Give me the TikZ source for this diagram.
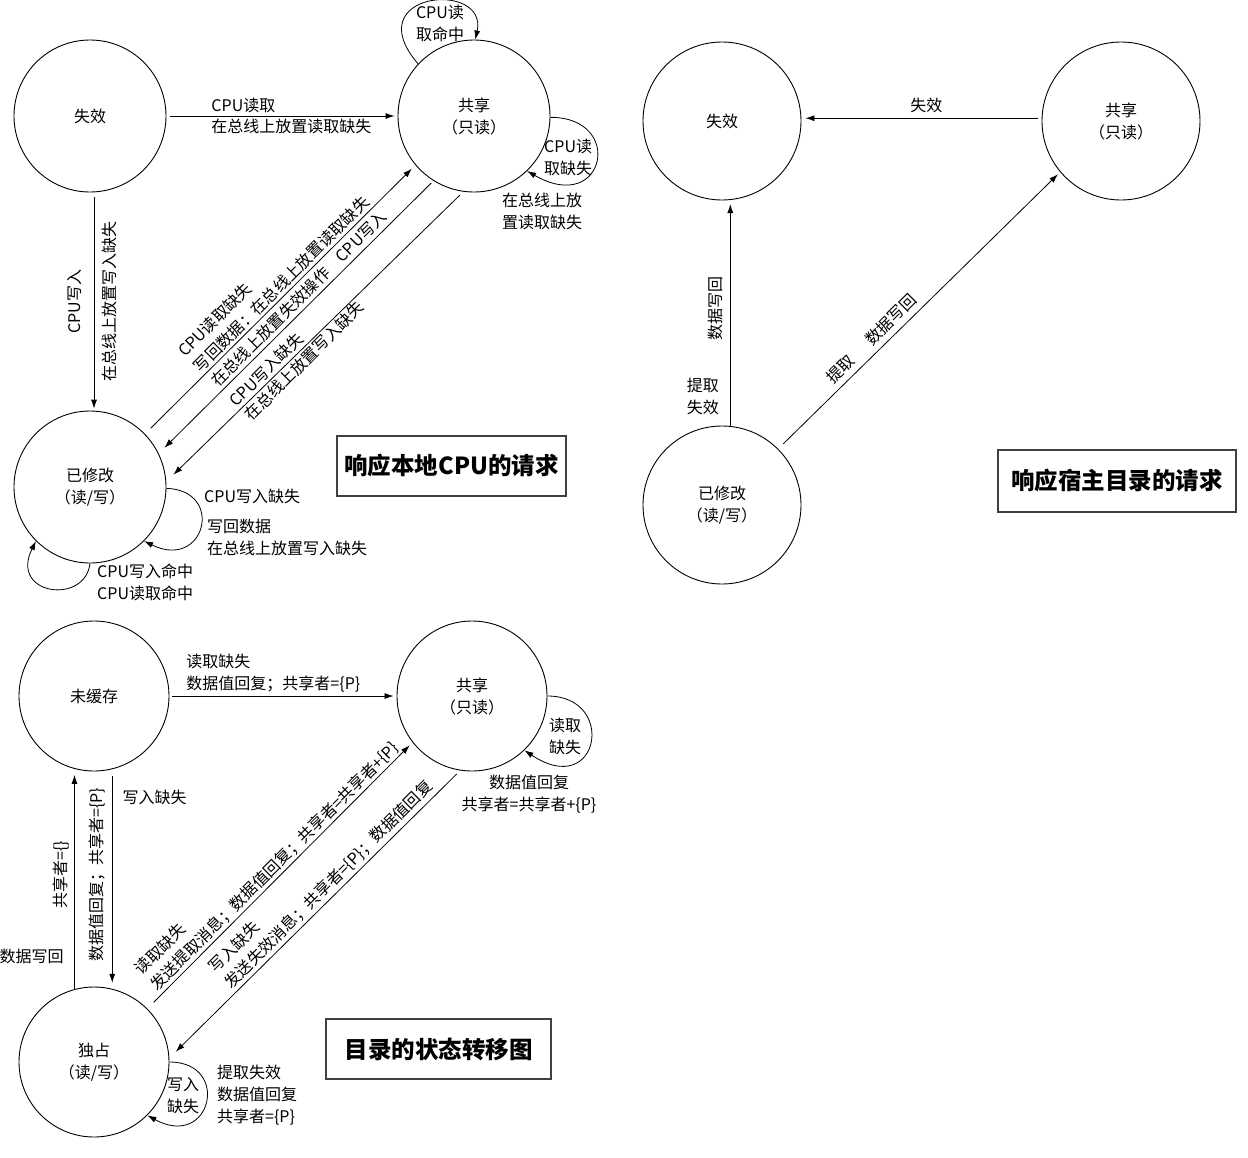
\documentclass[tikz,border=0pt]{standalone}
\usepackage{fontspec}
\setmainfont{Noto Sans CJK SC}
\usetikzlibrary{arrows.meta}
\tikzset{
	state/.style={circle,draw,line width=.9pt,inner sep=0pt,align=center},
	trans/.style={line width=.8pt,-{Latex[length=9pt,width=6pt]}},
	lab/.style={inner sep=3pt,align=left},
	title/.style={draw=black!75,line width=1.3pt,font=\bfseries\fontsize{23.5pt}{28pt}\selectfont}
}
\begin{document}
\begin{tikzpicture}[x=1pt,y=-1pt,font=\fontsize{16pt}{22pt}\selectfont]
		\useasboundingbox (0,0) rectangle (1248,1157);
		\node[state,minimum size=152pt] (inv1) at (90,116) {失效};
		\node[state,minimum size=152pt] (sh1) at (474,116) {共享\\（只读）};
		\node[state,minimum size=152pt] (mod1) at (90,487) {已修改\\（读/写）};
		\draw[trans,shorten <=4pt,shorten >=3pt] (inv1) -- (sh1)
			node[lab,pos=.18,anchor=south west] (t1) {CPU读取}
			node[lab,pos=.18,anchor=north west] (t2) {在总线上放置读取缺失};
		\draw[trans,shorten <=5pt,shorten >=2pt] (inv1.-87) -- (mod1.87)
			node[lab,midway,rotate=90,anchor=south,inner sep=12pt] (t3) {CPU写入}
			node[lab,midway,rotate=90,anchor=north,inner sep=8pt] (t4) {在总线上放置写入缺失};
		\draw[trans,shorten <=8pt,shorten >=5pt] (mod1.44) -- (sh1.220)
			node[lab,pos=.21,rotate=45,anchor=south west,inner sep=2pt] (t5) {CPU读取缺失\\写回数据：在总线上放置读取缺失};
		\draw[trans,shorten <=3pt,shorten >=8pt] (sh1.238) -- (mod1.26)
			node[lab,pos=.78,rotate=45,anchor=south west] (t6) {在总线上放置失效操作\hspace{1em}CPU写入};
		\draw[trans,shorten <=5pt,shorten >=10pt] (sh1.262) -- (mod1.4)
			node[lab,pos=.76,rotate=45,anchor=south west,inner sep=2pt] (t7) {CPU写入缺失}
			node[lab,pos=.76,rotate=45,anchor=north west] (t8) {在总线上放置写入缺失};
		\draw[trans] (sh1.137) .. controls +(-62,-72) and +(13,-60) .. (sh1.89);
		\node[lab,inner sep=0pt] (t9) at (440,23) {CPU读\\取命中};
		\draw[trans] (sh1.-1) .. controls +(75,0) and +(78,45) .. (sh1.-46);
		\node[lab,anchor=west,inner sep=0pt] (t10) at (544,157) {CPU读\\取缺失};
		\node[lab,anchor=west,inner sep=0pt] (t11) at (502,211) {在总线上放\\置读取缺失};
		\draw[trans] (mod1.-1) .. controls +(59,2) and +(61,30) .. (mod1.-45);
		\node[lab,anchor=west,inner sep=0pt] (t12) at (204,496) {CPU写入缺失};
		\node[lab,anchor=west,inner sep=0pt] (t13) at (207,537) {写回数据\\在总线上放置写入缺失};
		\draw[trans] (mod1.-90) .. controls +(-5,42) and +(-27,54) .. (mod1.225);
		\node[lab,anchor=west,inner sep=0pt] (t14) at (97,582) {CPU写入命中\\CPU读取命中};
		\node[title,minimum width=229pt,minimum height=60pt] (ttl1) at (451.5,466) {响应本地CPU的请求};

		\node[state,minimum size=158pt] (inv2) at (722,121) {失效};
		\node[state,minimum size=158pt] (sh2) at (1121,121) {共享\\（只读）};
		\node[state,minimum size=158pt] (mod2) at (722,505) {已修改\\（读/写）};
		\draw[trans,shorten <=4pt,shorten >=4pt] (sh2.178) -- (inv2.2)
			node[lab,pos=.48,anchor=south,inner sep=5pt] (t15) {失效};
		\draw[trans,shorten >=4pt] (mod2.84) -- (inv2.-84)
			node[lab,pos=.52,rotate=90,anchor=south,inner sep=7pt] (t16) {数据写回}
			node[lab,pos=.13,anchor=east,inner sep=0pt,xshift=-11pt] (t17) {提取\\失效};
		\draw[trans,shorten <=7pt,shorten >=3pt] (mod2.45) -- (sh2.220)
			node[lab,pos=.2,rotate=45,anchor=south west,inner sep=5pt] (t18) {提取\hspace{1.4em}数据写回};
		\node[title,minimum width=238pt,minimum height=62pt] (ttl2) at (1117,481) {响应宿主目录的请求};

		\node[state,minimum size=150pt] (unc) at (94,696) {未缓存};
		\node[state,minimum size=150pt] (sh3) at (472,696) {共享\\（只读）};
		\node[state,minimum size=150pt] (exc) at (94,1062) {独占\\（读/写）};
		\draw[trans,shorten <=3pt,shorten >=3pt] (unc) -- (sh3)
			node[lab,pos=.06,anchor=south west,inner sep=3pt] (t19) {读取缺失\\数据值回复；共享者=\{P\}};
		\draw[trans,shorten >=6pt] (exc.105) -- (unc.-105)
			node[lab,pos=.52,rotate=90,anchor=south,inner sep=5pt] (t20) {共享者=\{\}}
			node[lab,pos=.147,anchor=east,inner sep=0pt,xshift=-10.5pt] (t21) {数据写回};
		\draw[trans,shorten <=7pt,shorten >=6pt] (unc.-76) -- (exc.76)
			node[lab,pos=.48,rotate=90,anchor=south,inner sep=7pt] (t22) {数据值回复；共享者=\{P\}}
			node[lab,pos=.127,anchor=west,inner sep=0pt,xshift=10pt] (t23) {写入缺失};
		\draw[trans,shorten <=9pt,shorten >=4pt] (exc.45) -- (sh3.218)
			node[lab,pos=.045,rotate=45,anchor=south west,inner sep=2pt] (t24) {读取缺失\\发送提取消息；数据值回复；共享者=共享者+\{P\}};
		\draw[trans,shorten <=5pt,shorten >=9pt] (sh3.261) -- (exc.3)
			node[lab,pos=.78,rotate=45,anchor=south west,inner sep=2pt] (t25) {写入缺失\\发送失效消息；共享者=\{P\}；数据值回复};
		\draw[trans] (sh3.0) .. controls +(70,0) and +(75,50) .. (sh3.-46);
		\node[lab,anchor=west,inner sep=0pt] (t26) at (549,736) {读取\\缺失};
		\node[lab,align=center,inner sep=0pt] (t27) at (529,794) {数据值回复\\共享者=共享者+\{P\}};
		\draw[trans] (exc.0) .. controls +(62,0) and +(64,35) .. (exc.-45);
		\node[lab,anchor=west,inner sep=0pt] (t28) at (167,1096) {写入\\缺失};
		\node[lab,anchor=west,inner sep=0pt] (t29) at (217,1095) {提取失效\\数据值回复\\共享者=\{P\}};
		\node[title,minimum width=225pt,minimum height=60pt] (ttl3) at (438.5,1049) {目录的状态转移图};
\end{tikzpicture}
\end{document}
